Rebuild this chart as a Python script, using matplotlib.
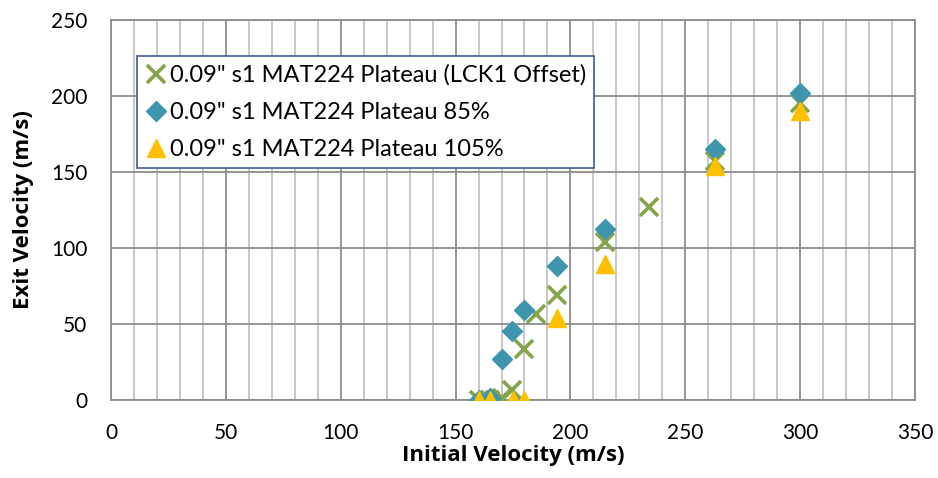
import numpy as np
import matplotlib.pyplot as plt
from matplotlib.ticker import MultipleLocator

plt.rcParams['font.family'] = ['Lato', 'DejaVu Sans']

# Exit vs initial velocity, three material variants
lck1_x = [160, 165, 170, 174.5, 180, 185, 194, 215, 234, 263, 300]
lck1_y = [0, 0, 1, 6, 33, 56, 69, 104, 127, 157, 195]

p85_x = [160, 165, 170, 174.5, 180, 194, 215, 263, 300]
p85_y = [0, 1, 27, 45, 59, 88, 112, 165, 202]

p105_x = [160, 165, 175, 180, 194, 215, 263, 300]
p105_y = [0, 0, 0, 0, 54, 89, 154, 190]

labels = ['0.09" s1 MAT224 Plateau (LCK1 Offset)',
          '0.09" s1 MAT224 Plateau 85%',
          '0.09" s1 MAT224 Plateau 105%']

fig = plt.figure(figsize=(9.38, 4.78), dpi=100)
ax = fig.add_axes([111/938, 1 - 399.5/478, 804/938, 379.5/478])

ax.plot(lck1_x, lck1_y, linestyle='none', marker='x', ms=13.5, mew=2.6,
        color='#86a44a', label=labels[0], zorder=3)
ax.plot(p85_x, p85_y, linestyle='none', marker='D', ms=9.8,
        color='#3e96ae', label=labels[1], zorder=4)
ax.plot(p105_x, p105_y, linestyle='none', marker='^', ms=13,
        color='#ffc000', label=labels[2], zorder=5)

ax.set_xlim(0, 350)
ax.set_ylim(0, 250)
ax.xaxis.set_major_locator(MultipleLocator(50))
ax.xaxis.set_minor_locator(MultipleLocator(10))
ax.yaxis.set_major_locator(MultipleLocator(50))

ax.grid(True, which='major', color='#8c8c8c', linewidth=1.3)
ax.grid(True, which='minor', axis='x', color='#c4c4c4', linewidth=1.3)
ax.set_axisbelow(True)
for s in ax.spines.values():
    s.set_color('#8c8c8c')
    s.set_linewidth(1.3)

ax.tick_params(which='both', length=0, labelsize=15, colors='black')
ax.tick_params(axis='x', pad=17)
ax.tick_params(axis='y', pad=17)

label_font = dict(family=['Open Sans', 'DejaVu Sans'], fontsize=16, fontweight='bold')
ax.set_xlabel('Initial Velocity (m/s)', labelpad=1, **label_font)
ax.set_ylabel('Exit Velocity (m/s)', labelpad=12, **label_font)

leg = ax.legend(loc='upper left', bbox_to_anchor=(0.032, 0.905), borderaxespad=0,
                fontsize=17, handlelength=0.9, handletextpad=0.15,
                labelspacing=0.68, borderpad=0.35, fancybox=False, framealpha=1)
leg.get_frame().set_edgecolor('#3c5d8f')
leg.get_frame().set_linewidth(1.2)

fig.savefig('out.png', dpi=100)
